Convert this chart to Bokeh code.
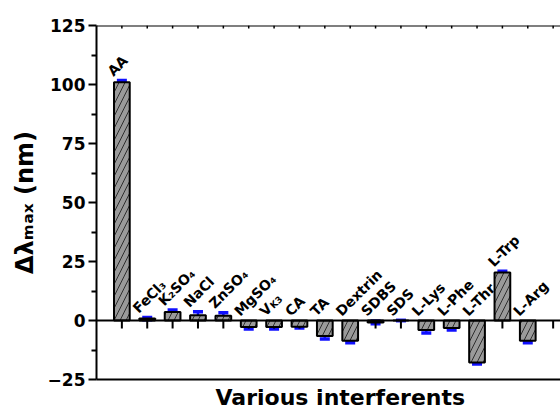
import math
from bokeh.plotting import figure
from bokeh.models import (ColumnDataSource, FixedTicker, LinearAxis, Range1d, Span,
                          Whisker, TeeHead, Label, Title)
from bokeh.core.properties import value
from bokeh.embed import file_html
from bokeh.resources import INLINE

# ---- data ----
labels = ["AA", "FeCl₃", "K₂SO₄", "NaCl", "ZnSO₄", "MgSO₄", "V", "CA", "TA",
          "Dextrin", "SDBS", "SDS", "L-Lys", "L-Phe", "L-Thr", "L-Trp", "L-Arg"]
values = [101.0, 0.8, 3.6, 2.2, 2.0, -2.8, -2.8, -2.6, -6.6, -8.6, -0.8, 0.0,
          -4.0, -3.2, -17.8, 20.3, -8.6]
errors = [0.7, 0.5, 0.8, 1.5, 1.3, 0.8, 0.8, 0.6, 1.2, 0.8, 0.6, 0.0,
          1.3, 0.8, 0.6, 0.6, 0.8]
y_ticks = [-25, 0, 25, 50, 75, 100, 125]
y_minor = [-12.5, 12.5, 37.5, 62.5, 87.5, 112.5]
x_title = "Various interferents"
y_title = "Δλₘₐₓ (nm)"

FONT = "DejaVu Sans"

idx = list(range(len(labels)))
tick_pos = list(range(len(labels) + 1))
lab_y = [max(v + e, 0) if v > 0 else 0 for v, e in zip(values, errors)]
src = ColumnDataSource(dict(
    x=idx, top=values, lab=labels, lab_y=lab_y,
    upper=[v + e for v, e in zip(values, errors)],
    lower=[v - e for v, e in zip(values, errors)],
))
tsrc = ColumnDataSource(dict(x=tick_pos))

p = figure(width=560, height=416, output_backend="svg", toolbar_location=None,
           x_range=Range1d(-1, 17.29), y_range=Range1d(-25, 125),
           min_border_left=96, min_border_right=0, min_border_top=25,
           min_border_bottom=37, x_axis_type=None, y_axis_type=None)
p.outline_line_color = None
p.xgrid.visible = False
p.ygrid.visible = False

# left axis
ya = LinearAxis(ticker=FixedTicker(ticks=y_ticks, minor_ticks=y_minor))
ya.axis_line_width = 2
ya.major_tick_line_width = 2
ya.minor_tick_line_width = 2
ya.major_tick_out = 8
ya.major_tick_in = 0
ya.minor_tick_out = 5
ya.minor_tick_in = 0
ya.major_label_standoff = 3
ya.major_label_text_font = FONT
ya.major_label_text_font_style = "bold"
ya.major_label_text_font_size = "17px"
ya.major_label_text_color = "black"
ya.axis_label = y_title
ya.axis_label_standoff = 6
ya.axis_label_text_font = FONT
ya.axis_label_text_font_style = "bold"
ya.axis_label_text_font_size = "24px"
ya.axis_label_text_color = "black"
p.add_layout(ya, "left")

# bottom axis (frame line only)
ba = LinearAxis(ticker=FixedTicker(ticks=[], minor_ticks=[]))
ba.axis_line_width = 2
ba.major_tick_out = 0
ba.major_tick_in = 0
p.add_layout(ba, "below")

# x title
p.add_layout(Title(text=x_title, align="left", offset=119, standoff=7,
                   text_font=FONT, text_font_style="bold",
                   text_font_size="22px", text_color="black"), "below")

# top frame line with small ticks
p.add_layout(Span(location=125, dimension="width", line_color="black", line_width=2))
p.ray(x="x", y=125, length=3, angle=-math.pi / 2, length_units="screen",
      line_color="black", line_width=1.5, source=tsrc)

# zero line with category ticks
p.add_layout(Span(location=0, dimension="width", line_color="black", line_width=2))
p.ray(x="x", y=0, length=8, angle=-math.pi / 2, length_units="screen",
      line_color="black", line_width=2, source=tsrc)

# bars
p.vbar(x="x", top="top", bottom=0, width=0.62, source=src,
       fill_color="#9a9a9a", line_color="black", line_width=2,
       hatch_pattern="/", hatch_color="black", hatch_scale=12, hatch_weight=0.7)

# error bars
wh = Whisker(base="x", upper="upper", lower="lower", source=src,
             line_color="#1010ff", line_width=2.5,
             upper_head=TeeHead(size=10, line_color="#1010ff", line_width=3.5),
             lower_head=TeeHead(size=10, line_color="#1010ff", line_width=3.5))
p.add_layout(wh)

# category labels
p.text(x="x", y="lab_y", text="lab", source=src, angle=math.pi / 4,
       x_offset=-12, y_offset=-7, text_align="left", text_baseline="alphabetic",
       text_font=value(FONT), text_font_style="bold", text_font_size="14px",
       text_color="black")
# subscript of V_K3
p.add_layout(Label(x=6, y=0, text="K3", angle=math.pi / 4, x_offset=-2.5,
                   y_offset=13.5, text_align="left", text_baseline="alphabetic",
                   text_font=FONT, text_font_style="bold", text_font_size="9px",
                   text_color="black"))

open("out.html", "w").write(file_html(p, INLINE))
